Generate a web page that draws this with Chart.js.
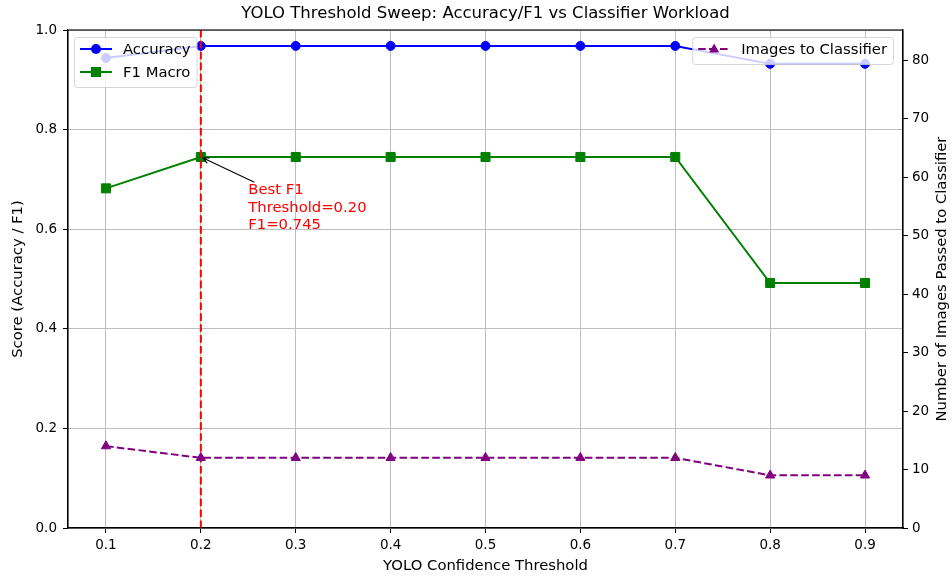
<!DOCTYPE html>
<html>
<head>
<meta charset="utf-8">
<script src="https://cdn.jsdelivr.net/npm/chart.js@4.4.0/dist/chart.umd.min.js"></script>
<style>
  html, body { margin: 0; padding: 0; background: #fff; }
  canvas { display: block; }
</style>
</head>
<body>
<canvas id="sweepChart" width="952" height="579"></canvas>
<script>
// values
const thresholds = [0.1, 0.2, 0.3, 0.4, 0.5, 0.6, 0.7, 0.8, 0.9];
const accuracy = [0.944, 0.968, 0.968, 0.968, 0.968, 0.968, 0.968, 0.932, 0.932];
const f1Macro = [0.682, 0.745, 0.745, 0.745, 0.745, 0.745, 0.745, 0.492, 0.492];
const imagesToClassifier = [14, 12, 12, 12, 12, 12, 12, 9, 9];

const scoreTicks = [0, 0.2, 0.4, 0.6, 0.8, 1.0];
const imageTicks = [0, 10, 20, 30, 40, 50, 60, 70, 80];

const bestThreshold = 0.2;
const bestF1 = 0.745;
const noteAt = [0.25, 0.6];
const noteLines = ['Best F1', 'Threshold=' + bestThreshold.toFixed(2), 'F1=' + bestF1.toFixed(3)];

const FONT = "'DejaVu Sans', sans-serif";
const LABEL_PX = 14.8;
const DASH = [7.6, 3.3];

Chart.defaults.font.family = FONT;
Chart.defaults.font.size = 13.5;
Chart.defaults.color = '#000';

const xy = (xs, ys) => xs.map((x, i) => ({ x: x, y: ys[i] }));
const fixTicks = values => scale => { scale.ticks = values.map(v => ({ value: v })); };

function drawMarker(ctx, style, x, y, color) {
  ctx.save();
  ctx.fillStyle = color;
  ctx.beginPath();
  if (style === 'circle') {
    ctx.arc(x, y, 5, 0, Math.PI * 2);
  } else if (style === 'rect') {
    ctx.rect(x - 5, y - 5, 10, 10);
  } else {
    ctx.moveTo(x, y - 5.5);
    ctx.lineTo(x + 5, y + 3.5);
    ctx.lineTo(x - 5, y + 3.5);
    ctx.closePath();
  }
  ctx.fill();
  ctx.restore();
}

function drawLegend(ctx, chart, items, anchorX, top, alignRight) {
  ctx.save();
  ctx.font = LABEL_PX + 'px ' + FONT;
  const rowH = 23;
  let textW = 0;
  items.forEach(it => { textW = Math.max(textW, ctx.measureText(it.label).width); });
  const w = 6 + 32 + 11 + textW + 6;
  const h = 4 + rowH * items.length;
  const left = alignRight ? anchorX - w : anchorX;

  ctx.fillStyle = 'rgba(255,255,255,0.8)';
  ctx.strokeStyle = 'rgba(204,204,204,0.8)';
  ctx.lineWidth = 1;
  ctx.beginPath();
  ctx.roundRect(left + 0.5, top + 0.5, w, h, 3);
  ctx.fill();
  ctx.stroke();

  items.forEach((it, i) => {
    const ds = chart.data.datasets[it.index];
    const cy = top + 12 + rowH * i;
    ctx.strokeStyle = ds.borderColor;
    ctx.lineWidth = ds.borderWidth;
    ctx.setLineDash(ds.borderDash || []);
    ctx.beginPath();
    ctx.moveTo(left + 6, cy);
    ctx.lineTo(left + 38, cy);
    ctx.stroke();
    ctx.setLineDash([]);
    drawMarker(ctx, ds.pointStyle, left + 22, cy, ds.borderColor);
    ctx.fillStyle = '#000';
    ctx.textAlign = 'left';
    ctx.textBaseline = 'middle';
    ctx.fillText(it.label, left + 49, cy + 1);
  });
  ctx.restore();
}

const overlay = {
  id: 'overlay',
  afterDraw(chart) {
    const ctx = chart.ctx;
    const area = chart.chartArea;
    const sx = chart.scales.x, sy = chart.scales.y;

    // frame (top spine)
    ctx.save();
    ctx.strokeStyle = '#000';
    ctx.lineWidth = 1.1;
    ctx.strokeRect(area.left, area.top, area.right - area.left, area.bottom - area.top);

    // titles
    const midX = (area.left + area.right) / 2;
    const midY = (area.top + area.bottom) / 2;
    ctx.fillStyle = '#000';
    ctx.textAlign = 'center';
    ctx.textBaseline = 'middle';
    ctx.font = '16.5px ' + FONT;
    ctx.fillText('YOLO Threshold Sweep: Accuracy/F1 vs Classifier Workload', midX, 14);
    ctx.font = LABEL_PX + 'px ' + FONT;
    ctx.fillText('YOLO Confidence Threshold', midX, 566);
    ctx.save();
    ctx.translate(18, midY);
    ctx.rotate(-Math.PI / 2);
    ctx.fillText('Score (Accuracy / F1)', 0, 0);
    ctx.restore();
    ctx.save();
    ctx.translate(942, midY);
    ctx.rotate(-Math.PI / 2);
    ctx.fillText('Number of Images Passed to Classifier', 0, 0);
    ctx.restore();

    // annotation text + arrow
    const tx = sx.getPixelForValue(noteAt[0]);
    const lastBase = sy.getPixelForValue(noteAt[1]);
    const lh = 17.5;
    ctx.fillStyle = 'red';
    ctx.textAlign = 'left';
    ctx.textBaseline = 'alphabetic';
    let maxW = 0;
    noteLines.forEach((s, i) => {
      ctx.fillText(s, tx, lastBase - lh * (noteLines.length - 1 - i));
      maxW = Math.max(maxW, ctx.measureText(s).width);
    });
    const boxTop = lastBase - lh * (noteLines.length - 1) - 12;
    const boxBottom = lastBase + 3;
    const cx = tx + maxW / 2, cy = (boxTop + boxBottom) / 2;
    const px = sx.getPixelForValue(bestThreshold), py = sy.getPixelForValue(bestF1);
    const dx = px - cx, dy = py - cy;
    const t = Math.min((maxW / 2) / Math.abs(dx), ((boxBottom - boxTop) / 2) / Math.abs(dy));
    const x0 = cx + dx * t, y0 = cy + dy * t;
    const len = Math.hypot(px - x0, py - y0);
    const ux = (px - x0) / len, uy = (py - y0) / len;
    const x1 = px - ux * 2.5, y1 = py - uy * 2.5;
    ctx.strokeStyle = '#000';
    ctx.lineWidth = 1.1;
    ctx.beginPath();
    ctx.moveTo(x0, y0);
    ctx.lineTo(x1, y1);
    const hl = 6, hw = 3;
    ctx.moveTo(x1 - ux * hl - uy * hw, y1 - uy * hl + ux * hw);
    ctx.lineTo(x1, y1);
    ctx.lineTo(x1 - ux * hl + uy * hw, y1 - uy * hl - ux * hw);
    ctx.stroke();
    ctx.restore();

    // legends
    drawLegend(ctx, chart, [{ index: 0, label: 'Accuracy' }, { index: 1, label: 'F1 Macro' }], area.left + 6, area.top + 7, false);
    drawLegend(ctx, chart, [{ index: 3, label: 'Images to Classifier' }], area.right - 10, area.top + 7, true);
  }
};

new Chart(document.getElementById('sweepChart'), {
  type: 'line',
  data: {
    datasets: [
      {
        label: 'Accuracy',
        data: xy(thresholds, accuracy),
        yAxisID: 'y',
        borderColor: 'blue',
        backgroundColor: 'blue',
        borderWidth: 2,
        pointStyle: 'circle',
        pointRadius: 4.5,
        pointBorderWidth: 1,
        order: 3
      },
      {
        label: 'F1 Macro',
        data: xy(thresholds, f1Macro),
        yAxisID: 'y',
        borderColor: 'green',
        backgroundColor: 'green',
        borderWidth: 2,
        pointStyle: 'rect',
        pointRadius: 6.4,
        pointBorderWidth: 1,
        order: 2
      },
      {
        label: 'Best threshold',
        data: [{ x: bestThreshold, y: scoreTicks[0] }, { x: bestThreshold, y: scoreTicks[scoreTicks.length - 1] }],
        yAxisID: 'y',
        borderColor: 'red',
        borderWidth: 2,
        borderDash: DASH,
        pointRadius: 0,
        clip: false,
        order: 1
      },
      {
        label: 'Images to Classifier',
        data: xy(thresholds, imagesToClassifier),
        yAxisID: 'y2',
        borderColor: 'purple',
        backgroundColor: 'purple',
        borderWidth: 2,
        borderDash: DASH,
        pointStyle: 'triangle',
        pointRadius: 5.3,
        pointBorderWidth: 1,
        order: 0
      }
    ]
  },
  options: {
    responsive: false,
    animation: false,
    layout: { padding: { top: 30, left: 0, right: 0, bottom: 0 } },
    plugins: {
      legend: { display: false },
      title: { display: false },
      tooltip: { enabled: false }
    },
    elements: { line: { tension: 0 } },
    scales: {
      x: {
        type: 'linear',
        min: 0.06,
        max: 0.94,
        afterBuildTicks: fixTicks(thresholds),
        afterFit: s => { s.height = 51; },
        ticks: { callback: v => v.toFixed(1), padding: 4, maxRotation: 0, autoSkip: false },
        grid: { color: '#bdbdbd', lineWidth: 1, tickColor: '#000', tickLength: 5 },
        border: { color: '#000', width: 1.1 }
      },
      y: {
        position: 'left',
        min: 0,
        max: 1,
        afterBuildTicks: fixTicks(scoreTicks),
        afterFit: s => { s.width = 68; },
        ticks: { callback: v => v.toFixed(1), padding: 6 },
        grid: { color: '#bdbdbd', lineWidth: 1, tickColor: '#000', tickLength: 5 },
        border: { color: '#000', width: 1.1 }
      },
      y2: {
        position: 'right',
        min: 0,
        max: 85.15,
        afterBuildTicks: fixTicks(imageTicks),
        afterFit: s => { s.width = 49; },
        ticks: { padding: 4 },
        grid: { drawOnChartArea: false, tickColor: '#000', tickLength: 5 },
        border: { color: '#000', width: 1.1 }
      }
    }
  },
  plugins: [overlay]
});
</script>
</body>
</html>
